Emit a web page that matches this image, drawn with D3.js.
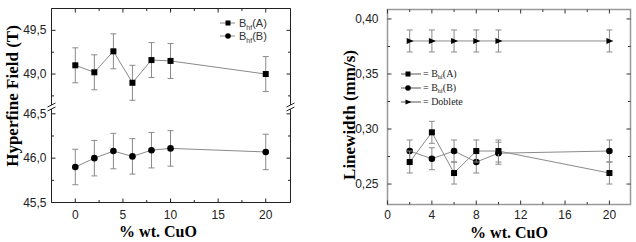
<!DOCTYPE html>
<html>
<head>
<meta charset="utf-8">
<script src="https://cdn.jsdelivr.net/npm/d3@7"></script>
<style>
  body { margin: 0; background: #fff; }
  text { font-family: Arial, "Liberation Sans", sans-serif; }
  .serif { font-family: "Times New Roman", "Liberation Serif", serif; }
</style>
</head>
<body>
<div id="chart"></div>
<script>
// data, left panel (hyperfine field)
const cuoLeft = [0, 2, 4, 6, 8, 10, 20];
const bhfA = [49.10, 49.02, 49.26, 48.90, 49.16, 49.15, 49.00];
const bhfB = [45.90, 46.00, 46.08, 46.02, 46.09, 46.11, 46.07];
const bhfErr = 0.2;

// data, right panel (linewidth)
const cuoRight = [2, 4, 6, 8, 10, 20];
const lwA = [0.270, 0.297, 0.260, 0.280, 0.280, 0.260];
const lwB = [0.280, 0.273, 0.280, 0.270, 0.278, 0.280];
const lwDoblete = [0.380, 0.380, 0.380, 0.380, 0.380, 0.380];
const lwErr = 0.01;

const leftXTicks = [0, 5, 10, 15, 20];
const leftYTicksUpper = [49.0, 49.5];
const leftYTicksLower = [45.5, 46.0, 46.5];
const rightXTicks = [0, 4, 8, 12, 16, 20];
const rightYTicks = [0.25, 0.30, 0.35, 0.40];

const width = 636, height = 242;
const svg = d3.select("#chart").append("svg")
    .attr("width", width)
    .attr("height", height);

const fmt1 = d => d3.format(".1f")(d).replace(".", ",");
const fmt2 = d => d3.format(".2f")(d).replace(".", ",");

const lineCol = "#8a8a8a";
const tickLabelCol = "#222";

// markers
function drawMarker(g, type, x, y, s) {
    if (type === "square") {
        g.append("rect").attr("x", x - s / 2).attr("y", y - s / 2)
            .attr("width", s).attr("height", s).attr("fill", "#000");
    } else if (type === "circle") {
        g.append("circle").attr("cx", x).attr("cy", y).attr("r", s / 2 + 0.3).attr("fill", "#000");
    } else {
        g.append("path")
            .attr("d", `M${x - s / 2},${y - s / 2}L${x + s / 2 + 1},${y}L${x - s / 2},${y + s / 2}Z`)
            .attr("fill", "#000");
    }
}

function drawSeries(g, xs, ys, err, x, y, type) {
    const pts = xs.map((d, i) => [x(d), y(ys[i])]);
    g.append("path")
        .attr("d", d3.line()(pts))
        .attr("fill", "none")
        .attr("stroke", lineCol)
        .attr("stroke-width", 1);
    xs.forEach((d, i) => {
        const cx = x(d), top = y(ys[i] + err), bot = y(ys[i] - err);
        g.append("line").attr("x1", cx).attr("x2", cx).attr("y1", top).attr("y2", bot)
            .attr("stroke", lineCol).attr("stroke-width", 1);
        [top, bot].forEach(yy => g.append("line")
            .attr("x1", cx - 3).attr("x2", cx + 3).attr("y1", yy).attr("y2", yy)
            .attr("stroke", lineCol).attr("stroke-width", 1));
    });
    xs.forEach((d, i) => drawMarker(g, type, x(d), y(ys[i]), 6));
}

// ---------- Left panel ----------
const L = { left: 51.5, right: 290.5, top: 8.5, bottom: 202.5, breakY: 107 };
const xL = d3.scaleLinear().domain([-2.5, 22.6]).range([L.left, L.right]);
const yUp = d3.scaleLinear().domain([48.64, 49.75]).range([L.breakY - 1.5, L.top]);
const yLo = d3.scaleLinear().domain([45.5, 46.56]).range([L.bottom, L.breakY + 1.5]);

const gl = svg.append("g");

// frame
gl.append("line").attr("x1", L.left).attr("x2", L.right).attr("y1", L.top).attr("y2", L.top).attr("stroke", "#222");
gl.append("line").attr("x1", L.left).attr("x2", L.right).attr("y1", L.bottom).attr("y2", L.bottom).attr("stroke", "#222");
[L.left, L.right].forEach(xx => {
    gl.append("line").attr("x1", xx).attr("x2", xx).attr("y1", L.top).attr("y2", L.breakY - 2).attr("stroke", "#222");
    gl.append("line").attr("x1", xx).attr("x2", xx).attr("y1", L.breakY + 2).attr("y2", L.bottom).attr("stroke", "#222");
    // break marks
    [-2, 2].forEach(o => gl.append("line")
        .attr("x1", xx - 4).attr("x2", xx + 4)
        .attr("y1", L.breakY + o + 2).attr("y2", L.breakY + o - 2)
        .attr("stroke", "#222"));
});

// x ticks
d3.range(0, 22.5, 2.5).forEach(v => {
    const major = v % 5 === 0;
    const len = major ? 4 : 2.5;
    gl.append("line").attr("x1", xL(v)).attr("x2", xL(v)).attr("y1", L.bottom).attr("y2", L.bottom - len).attr("stroke", "#222");
    gl.append("line").attr("x1", xL(v)).attr("x2", xL(v)).attr("y1", L.top).attr("y2", L.top + len).attr("stroke", "#222");
});
leftXTicks.forEach(v => gl.append("text")
    .attr("x", xL(v)).attr("y", L.bottom + 16)
    .attr("text-anchor", "middle").attr("font-size", 12).attr("fill", tickLabelCol).text(v));

// y ticks
function yTicks(scale, lo, hi, labels) {
    d3.range(lo, hi + 0.001, 0.25).forEach(v => {
        const major = Math.abs(v * 2 - Math.round(v * 2)) < 1e-6;
        const len = major ? 4 : 2.5;
        const yy = scale(v);
        gl.append("line").attr("x1", L.left).attr("x2", L.left + len).attr("y1", yy).attr("y2", yy).attr("stroke", "#222");
        gl.append("line").attr("x1", L.right).attr("x2", L.right - len).attr("y1", yy).attr("y2", yy).attr("stroke", "#222");
    });
    labels.forEach(v => gl.append("text")
        .attr("x", L.left - 5).attr("y", scale(v) + 4)
        .attr("text-anchor", "end").attr("font-size", 12).attr("fill", tickLabelCol).text(fmt1(v)));
}
yTicks(yUp, 48.75, 49.75, leftYTicksUpper);
yTicks(yLo, 45.5, 46.5, leftYTicksLower);

drawSeries(gl, cuoLeft, bhfA, bhfErr, xL, yUp, "square");
drawSeries(gl, cuoLeft, bhfB, bhfErr, xL, yLo, "circle");

// legend left
[["square", "(A)", 23], ["circle", "(B)", 36]].forEach(([t, s, yy]) => {
    gl.append("line").attr("x1", 220).attr("x2", 235).attr("y1", yy).attr("y2", yy).attr("stroke", lineCol);
    drawMarker(gl, t, 228, yy, 5);
    const tx = gl.append("text").attr("x", 239).attr("y", yy + 4).attr("font-size", 11).attr("fill", "#333");
    tx.append("tspan").text("B");
    tx.append("tspan").attr("font-size", 7).attr("dy", 3).text("hf");
    tx.append("tspan").attr("dy", -3).text(s);
});

gl.append("text").attr("class", "serif")
    .attr("transform", "translate(18,96) rotate(-90)")
    .attr("text-anchor", "middle").attr("font-size", 17).attr("font-weight", "bold")
    .text("Hyperfine Field (T)");
gl.append("text").attr("class", "serif")
    .attr("x", 158).attr("y", 237)
    .attr("text-anchor", "middle").attr("font-size", 16).attr("font-weight", "bold")
    .text("% wt. CuO");

// ---------- Right panel ----------
const R = { left: 387.5, right: 630.5, top: 9.5, bottom: 204.5 };
const xR = d3.scaleLinear().domain([0, 21.9]).range([R.left, R.right]);
const yR = d3.scaleLinear().domain([0.2314, 0.4086]).range([R.bottom, R.top]);
const gr = svg.append("g");

gr.append("rect").attr("x", R.left).attr("y", R.top)
    .attr("width", R.right - R.left).attr("height", R.bottom - R.top)
    .attr("fill", "none").attr("stroke", "#999").attr("stroke-width", 1.5);

d3.range(0, 22, 2).forEach(v => {
    const len = v % 4 === 0 ? 4 : 2.5;
    gr.append("line").attr("x1", xR(v)).attr("x2", xR(v)).attr("y1", R.bottom).attr("y2", R.bottom - len).attr("stroke", "#333");
    gr.append("line").attr("x1", xR(v)).attr("x2", xR(v)).attr("y1", R.top).attr("y2", R.top + len).attr("stroke", "#333");
});
rightXTicks.forEach(v => gr.append("text")
    .attr("x", xR(v)).attr("y", R.bottom + 14)
    .attr("text-anchor", "middle").attr("font-size", 12).attr("fill", tickLabelCol).text(v));

d3.range(0.25, 0.41, 0.025).forEach(v => {
    const major = Math.abs(v * 20 - Math.round(v * 20)) < 1e-6;
    const len = major ? 4 : 2.5;
    gr.append("line").attr("x1", R.left).attr("x2", R.left + len).attr("y1", yR(v)).attr("y2", yR(v)).attr("stroke", "#333");
    gr.append("line").attr("x1", R.right).attr("x2", R.right - len).attr("y1", yR(v)).attr("y2", yR(v)).attr("stroke", "#333");
});
rightYTicks.forEach(v => gr.append("text")
    .attr("x", R.left - 9).attr("y", yR(v) + 4)
    .attr("text-anchor", "end").attr("font-size", 12).attr("fill", tickLabelCol).text(fmt2(v)));

drawSeries(gr, cuoRight, lwDoblete, lwErr, xR, yR, "triangle");
drawSeries(gr, cuoRight, lwB, lwErr, xR, yR, "circle");
drawSeries(gr, cuoRight, lwA, lwErr, xR, yR, "square");

// legend right
[["square", "(A)", 74], ["circle", "(B)", 88], ["triangle", "= Doblete", 102]].forEach(([t, s, yy]) => {
    gr.append("line").attr("x1", 401).attr("x2", 421).attr("y1", yy).attr("y2", yy).attr("stroke", "#555");
    drawMarker(gr, t, 408, yy, 5);
    const tx = gr.append("text").attr("class", "serif").attr("x", 423).attr("y", yy + 3)
        .attr("font-size", 10).attr("fill", "#222");
    if (t === "triangle") {
        tx.text(s);
    } else {
        tx.append("tspan").text("= B");
        tx.append("tspan").attr("font-size", 6).attr("dy", 2).text("hf");
        tx.append("tspan").attr("dy", -2).text(s);
    }
});

gr.append("text").attr("class", "serif")
    .attr("transform", "translate(355,115) rotate(-90)")
    .attr("text-anchor", "middle").attr("font-size", 17).attr("font-weight", "bold")
    .text("Linewidth (mm/s)");
gr.append("text").attr("class", "serif")
    .attr("x", 509).attr("y", 238)
    .attr("text-anchor", "middle").attr("font-size", 16).attr("font-weight", "bold")
    .text("% wt. CuO");
</script>
</body>
</html>
